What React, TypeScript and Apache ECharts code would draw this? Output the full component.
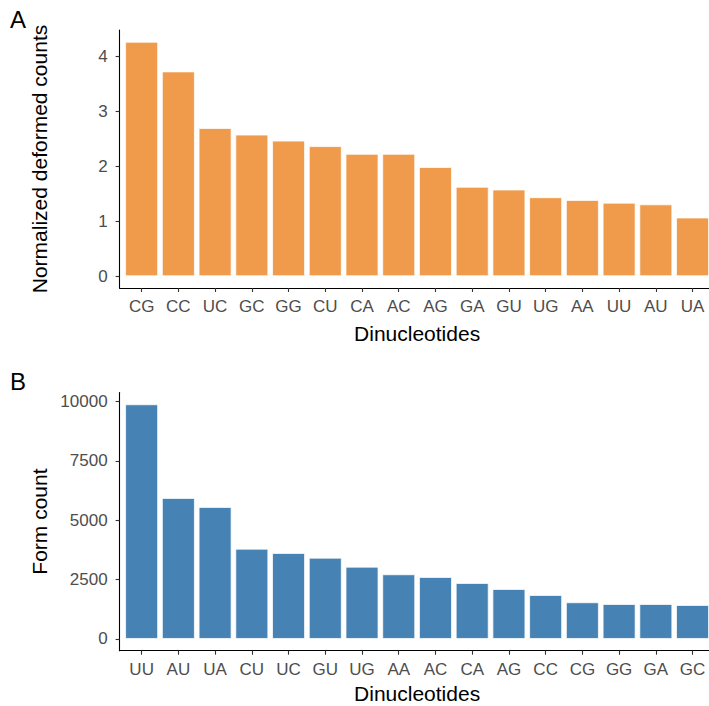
import React, { useEffect, useRef } from "react";
import * as echarts from "echarts";

const categoriesA = ["CG", "CC", "UC", "GC", "GG", "CU", "CA", "AC", "AG", "GA", "GU", "UG", "AA", "UU", "AU", "UA"];
const valuesA = [4.27, 3.73, 2.7, 2.58, 2.47, 2.37, 2.23, 2.23, 1.99, 1.63, 1.58, 1.44, 1.39, 1.34, 1.31, 1.07];
const ticksA = [0, 1, 2, 3, 4];

const categoriesB = ["UU", "AU", "UA", "CU", "UC", "GU", "UG", "AA", "AC", "CA", "AG", "CC", "CG", "GG", "GA", "GC"];
const valuesB = [9890, 5942, 5563, 3805, 3624, 3426, 3047, 2726, 2613, 2360, 2107, 1854, 1547, 1475, 1475, 1433];
const ticksB = [0, 2500, 5000, 7500, 10000];

const panelLabels = ["A", "B"];
const xTitle = "Dinucleotides";
const yTitleA = "Normalized deformed counts";
const yTitleB = "Form count";

const FONT = "'Liberation Sans', Arial, sans-serif";

function xAxisFor(cats: string[], gridIndex: number, nameGap: number) {
  return {
    type: "value" as const,
    gridIndex,
    min: -0.6,
    max: cats.length - 1 + 0.6,
    name: xTitle,
    nameLocation: "middle" as const,
    nameGap,
    nameMoveOverlap: false,
    nameTextStyle: { fontFamily: FONT, fontSize: 21, color: "#000" },
    splitLine: { show: false },
    axisLine: { show: true, onZero: false, lineStyle: { color: "#000", width: 1.1 } },
    axisTick: { show: true, length: 4, customValues: cats.map((_, i) => i), lineStyle: { color: "#333", width: 1.1 } },
    axisLabel: {
      show: true,
      margin: 10,
      customValues: cats.map((_, i) => i),
      formatter: (v: number) => cats[Math.round(v)] ?? "",
      fontFamily: FONT,
      fontSize: 17,
      color: "#4D4D4D",
    },
  };
}

function yAxisFor(values: number[], ticks: number[], gridIndex: number, name: string) {
  const maxV = Math.max(...values);
  return {
    type: "value" as const,
    gridIndex,
    min: -0.05 * maxV,
    max: 1.05 * maxV,
    name,
    nameLocation: "middle" as const,
    nameGap: 70,
    nameMoveOverlap: false,
    nameTextStyle: { fontFamily: FONT, fontSize: 21, color: "#000" },
    splitLine: { show: false },
    axisLine: { show: true, onZero: false, lineStyle: { color: "#000", width: 1.1 } },
    axisTick: { show: true, length: 4, customValues: ticks, lineStyle: { color: "#333", width: 1.1 } },
    axisLabel: {
      show: true,
      margin: 12,
      customValues: ticks,
      formatter: (v: number) => String(v),
      fontFamily: FONT,
      fontSize: 17,
      color: "#4D4D4D",
    },
  };
}

export default function App() {
  const ref = useRef<HTMLDivElement>(null);
  useEffect(() => {
    if (!ref.current) return;
    const chart = echarts.init(ref.current, undefined, { renderer: "svg" });
    const option: any = {
      animation: false,
      backgroundColor: "#fff",
      grid: [
        { left: 119.6, top: 30, width: 595, height: 258, containLabel: false, outerBoundsMode: "none" },
        { left: 119.6, top: 392.5, width: 595, height: 258.2, containLabel: false, outerBoundsMode: "none" },
      ],
      xAxis: [xAxisFor(categoriesA, 0, 35), xAxisFor(categoriesB, 1, 32)],
      yAxis: [yAxisFor(valuesA, ticksA, 0, yTitleA), yAxisFor(valuesB, ticksB, 1, yTitleB)],
      series: [
        {
          type: "bar",
          xAxisIndex: 0,
          yAxisIndex: 0,
          barWidth: "90%",
          data: valuesA.map((v, i) => [i, v]),
          itemStyle: { color: "#F09A4B", borderColor: "rgba(255,255,255,0.75)", borderWidth: 1 },
        },
        {
          type: "bar",
          xAxisIndex: 1,
          yAxisIndex: 1,
          barWidth: "90%",
          data: valuesB.map((v, i) => [i, v]),
          itemStyle: { color: "#4682B4", borderColor: "rgba(255,255,255,0.75)", borderWidth: 1 },
        },
      ],
      graphic: [
        { type: "text", left: 10, top: 7, style: { text: panelLabels[0], fontFamily: FONT, fontSize: 24, fill: "#000" } },
        { type: "text", left: 10, top: 369, style: { text: panelLabels[1], fontFamily: FONT, fontSize: 24, fill: "#000" } },
      ],
    };
    chart.setOption(option);
    return () => chart.dispose();
  }, []);
  return (
    <div
      ref={ref}
      style={{ position: "absolute", left: 0, top: 0, width: 709, height: 706, background: "#fff" }}
    />
  );
}
